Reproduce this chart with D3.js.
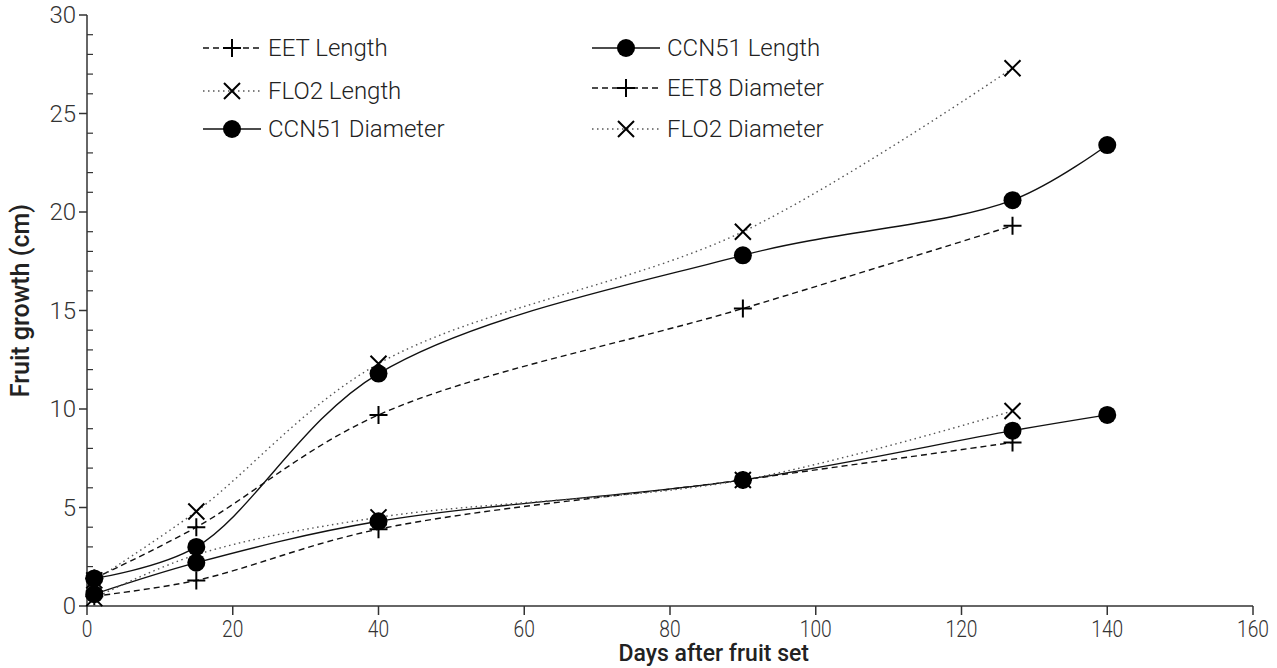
<!DOCTYPE html>
<html>
<head>
<meta charset="utf-8">
<script src="https://cdn.jsdelivr.net/npm/d3@7"></script>
<style>
  body { margin: 0; background: #fff; }
  text { font-family: Roboto, "Noto Sans", sans-serif; }
</style>
</head>
<body>
<script>
var width = 1277;
var height = 668;

// days after fruit set
var days = [1, 15, 40, 90, 127, 140];

var eetLength      = [1.4, 4.0, 9.7, 15.1, 19.3];
var ccn51Length    = [1.4, 3.0, 11.8, 17.8, 20.6, 23.4];
var flo2Length     = [1.3, 4.8, 12.3, 19.0, 27.3];
var eet8Diameter   = [0.5, 1.3, 3.9, 6.4, 8.3];
var ccn51Diameter  = [0.6, 2.2, 4.3, 6.4, 8.9, 9.7];
var flo2Diameter   = [0.4, 2.6, 4.5, 6.4, 9.9];

var xTicks = [0, 20, 40, 60, 80, 100, 120, 140, 160];
var yTicks = [0, 5, 10, 15, 20, 25, 30];

var series = [
  { name: "EET Length",     values: eetLength,     line: "dash", mark: "plus" },
  { name: "CCN51 Length",   values: ccn51Length,   line: "solid", mark: "dot" },
  { name: "FLO2 Length",    values: flo2Length,    line: "dot", mark: "cross" },
  { name: "EET8 Diameter",  values: eet8Diameter,  line: "dash", mark: "plus" },
  { name: "CCN51 Diameter", values: ccn51Diameter, line: "solid", mark: "dot" },
  { name: "FLO2 Diameter",  values: flo2Diameter,  line: "dot", mark: "cross" }
];

var x = d3.scaleLinear().domain([0, 160]).range([87, 1253]);
var y = d3.scaleLinear().domain([0, 30]).range([606, 15]);

var svg = d3.select("body").append("svg")
  .attr("width", width)
  .attr("height", height);

function lineStyle (sel, kind) {
  sel.attr("fill", "none");
  if (kind == "dash") {
    sel.attr("stroke", "#111").attr("stroke-width", 1.4).attr("stroke-dasharray", "6,4");
  } else if (kind == "dot") {
    sel.attr("stroke", "#555").attr("stroke-width", 1.4).attr("stroke-dasharray", "1.5,3.5");
  } else {
    sel.attr("stroke", "#111").attr("stroke-width", 1.4);
  }
}

function drawMark (g, kind) {
  if (kind == "dot") {
    g.append("circle").attr("r", 9).attr("fill", "#000");
  } else if (kind == "plus") {
    g.append("path").attr("d", "M-9,0H9M0,-9V9")
      .attr("stroke", "#000").attr("stroke-width", 2);
  } else {
    g.append("path").attr("d", "M-8,-8L8,8M-8,8L8,-8")
      .attr("stroke", "#000").attr("stroke-width", 2);
  }
}

// axes
var axisColor = "#333";
svg.append("line")
  .attr("x1", x(0)).attr("x2", x(160)).attr("y1", y(0)).attr("y2", y(0))
  .attr("stroke", axisColor).attr("stroke-width", 1.5);
svg.append("line")
  .attr("x1", x(0)).attr("x2", x(0)).attr("y1", y(0)).attr("y2", y(30))
  .attr("stroke", axisColor).attr("stroke-width", 1.5);

var xt = svg.selectAll(".xtick").data(xTicks).enter().append("g")
  .attr("transform", function (d) { return "translate(" + x(d) + "," + y(0) + ")"; });
xt.append("line").attr("y2", 9).attr("stroke", axisColor).attr("stroke-width", 1.5);
xt.append("text")
  .attr("y", 31)
  .attr("text-anchor", "middle")
  .attr("transform", "scale(0.8,1)")
  .style("font-size", "24px").style("font-weight", 300).style("fill", "#333")
  .text(function (d) { return d; });

var yt = svg.selectAll(".ytick").data(yTicks).enter().append("g")
  .attr("transform", function (d) { return "translate(" + x(0) + "," + y(d) + ")"; });
yt.append("line").attr("x2", -8).attr("stroke", axisColor).attr("stroke-width", 1.5);
yt.append("text")
  .attr("x", -11).attr("dy", "0.35em")
  .attr("text-anchor", "end")
  .style("font-size", "24px").style("font-weight", 300).style("fill", "#333")
  .text(function (d) { return d; });

// minor y ticks, inside
svg.selectAll(".ymin").data(d3.range(0, 31).filter(function (d) { return d % 5 != 0; }))
  .enter().append("line")
  .attr("x1", x(0)).attr("x2", x(0) + 6)
  .attr("y1", function (d) { return y(d); }).attr("y2", function (d) { return y(d); })
  .attr("stroke", axisColor).attr("stroke-width", 1.2);

svg.append("text")
  .attr("x", x(86)).attr("y", 661)
  .attr("text-anchor", "middle")
  .style("font-size", "23px").style("font-weight", 500).style("fill", "#222")
  .text("Days after fruit set");

svg.append("text")
  .attr("transform", "translate(29," + y(15.5) + ") rotate(-90)")
  .attr("text-anchor", "middle")
  .style("font-size", "25px").style("font-weight", 500).style("fill", "#222")
  .text("Fruit growth (cm)");

// lines
var line = d3.line()
  .x(function (d) { return x(d[0]); })
  .y(function (d) { return y(d[1]); })
  .curve(d3.curveCatmullRom.alpha(0.5));

series.forEach(function (s) {
  var pts = s.values.map(function (v, i) { return [days[i], v]; });
  svg.append("path").datum(pts).attr("d", line).call(lineStyle, s.line);
});

series.forEach(function (s) {
  s.values.forEach(function (v, i) {
    var g = svg.append("g").attr("transform", "translate(" + x(days[i]) + "," + y(v) + ")");
    drawMark(g, s.mark);
  });
});

// legend
var legendPos = [
  [203, 48], [592, 48],
  [203, 91], [592, 88],
  [203, 129], [592, 129]
];
series.forEach(function (s, i) {
  var lg = svg.append("g").attr("transform", "translate(" + legendPos[i][0] + "," + legendPos[i][1] + ")");
  var w = i % 2 == 0 ? 58 : 68;
  lg.append("line").attr("x1", 0).attr("x2", w).call(lineStyle, s.line);
  var m = lg.append("g").attr("transform", "translate(" + (w / 2) + ",0)");
  drawMark(m, s.mark);
  lg.append("text")
    .attr("x", w + 7).attr("dy", "0.35em")
    .style("font-size", "24px").style("font-weight", 300).style("fill", "#222")
    .text(s.name);
});
</script>
</body>
</html>
